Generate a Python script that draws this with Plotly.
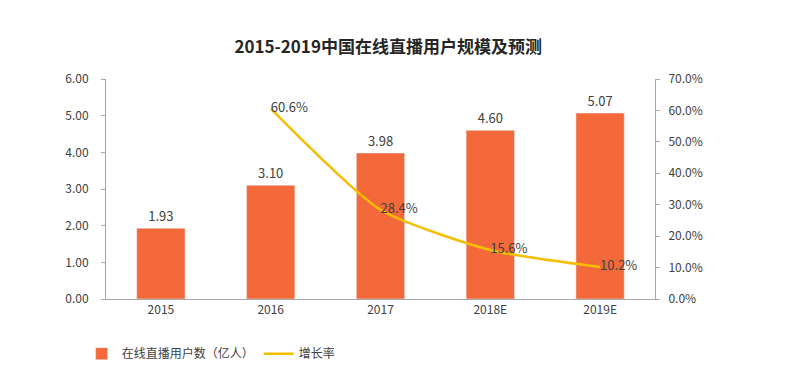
import plotly.graph_objects as go

categories = ["2015", "2016", "2017", "2018E", "2019E"]
users = [1.93, 3.10, 3.98, 4.60, 5.07]
growth = [None, 60.6, 28.4, 15.6, 10.2]
bar_name = "在线直播用户数（亿人）"
line_name = "增长率"
title = "2015-2019中国在线直播用户规模及预测"

FONT = "Noto Sans CJK SC"
BAR = "#F4693A"
LINE = "#F5BE00"

fig = go.Figure()
fig.add_trace(go.Bar(
    x=categories, y=users, name=bar_name, marker_color=BAR, width=0.44,
    text=[f"{v:.2f}" for v in users], textposition="outside",
    textfont=dict(size=13, color="#404040"), cliponaxis=False,
))
fig.add_trace(go.Scatter(
    x=categories, y=growth, name=line_name, yaxis="y2", mode="lines+text",
    line=dict(color=LINE, width=2.5, shape="spline", smoothing=0.6),
    text=[None if g is None else f"{g:.1f}%" for g in growth],
    textposition="middle right",
    textfont=dict(size=13, color="#404040"), cliponaxis=False,
))

fig.update_layout(
    width=792, height=366,
    margin=dict(l=98, r=145, t=71, b=75, autoexpand=False),
    paper_bgcolor="white", plot_bgcolor="white",
    font=dict(family=FONT, size=12, color="#404040"),
    title=dict(text=f"<b>{title}</b>", x=0.48, xanchor="center", y=0.893, yanchor="middle",
               font=dict(family=FONT, size=17, color="#262626")),
    xaxis=dict(showline=True, linecolor="#A6A6A6", linewidth=1, ticks="", showgrid=False,
               tickfont=dict(size=12, color="#404040")),
    yaxis=dict(range=[0, 6], tickvals=[0, 1, 2, 3, 4, 5, 6], tickformat=".2f",
               showline=True, linecolor="#A6A6A6", ticks="outside", ticklen=4, tickcolor="#A6A6A6",
               ticklabelstandoff=10,
               showgrid=False, zeroline=False, tickfont=dict(size=12, color="#404040")),
    yaxis2=dict(range=[0, 70], tickvals=[0, 10, 20, 30, 40, 50, 60, 70],
                ticktext=[f"{v:.1f}%" for v in [0, 10, 20, 30, 40, 50, 60, 70]],
                overlaying="y", side="right", showline=True, linecolor="#A6A6A6",
                ticks="outside", ticklen=4, tickcolor="#A6A6A6", showgrid=False, zeroline=False,
                ticklabelstandoff=6,
                tickfont=dict(size=12, color="#404040")),
    showlegend=True,
    legend=dict(orientation="h", x=0.093, xref="container", y=0.095, yref="container",
                xanchor="left", yanchor="top",
                font=dict(size=12, color="#404040"), itemwidth=30, traceorder="normal"),
)

fig.write_html("out.html")
